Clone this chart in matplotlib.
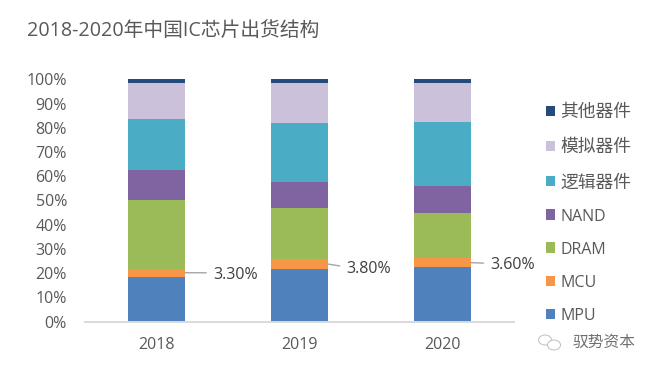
import matplotlib
matplotlib.use('Agg')
import matplotlib.pyplot as plt
from matplotlib.patches import Ellipse
import numpy as np

plt.rcParams['font.family'] = ['Open Sans', 'Noto Sans CJK SC', 'DejaVu Sans']

years = ['2018', '2019', '2020']
series_names = ['MPU', 'MCU', 'DRAM', 'NAND', '逻辑器件', '模拟器件', '其他器件']
mpu = [18.5, 21.8, 22.5]
mcu = [3.3, 3.8, 3.6]
dram = [28.3, 21.2, 18.9]
nand = [12.4, 10.9, 11.0]
logic = [21.1, 24.3, 26.4]
analog = [15.0, 16.6, 16.2]
other = [1.4, 1.4, 1.4]
colors = ['#4F81BD', '#F79646', '#9BBB59', '#8064A2', '#4BACC6', '#CCC1DA', '#254A7C']
mcu_labels = ['3.30%', '3.80%', '3.60%']
label_dx = [0.396, 0.330, 0.336]
label_y = [19.3, 21.7, 23.2]
text_gray = '#595959'

W, H = 656, 372
fig = plt.figure(figsize=(W / 100, H / 100), dpi=100)
ax = fig.add_axes([85 / W, 1 - 321.5 / H, (514 - 85) / W, (321.5 - 79.3) / H])

x = np.arange(len(years))
bottom = np.zeros(3)
handles = []
for vals, name, col in zip([mpu, mcu, dram, nand, logic, analog, other], series_names, colors):
    b = ax.bar(x, vals, 0.4, bottom=bottom, color=col, label=name, edgecolor='none')
    handles.append(b)
    bottom += np.array(vals)

ax.set_xlim(-0.5, 2.5)
ax.set_ylim(0, 100)
ax.set_xticks(x, years)
ax.set_yticks(np.arange(0, 101, 10), [f'{v}%' for v in range(0, 101, 10)])
ax.tick_params(axis='both', length=0, labelcolor=text_gray)
ax.tick_params(axis='x', pad=11, labelsize=11.5)
ax.tick_params(axis='y', pad=13, labelsize=11.5)
for s in ['top', 'right', 'left']:
    ax.spines[s].set_visible(False)
ax.spines['bottom'].set_color('#D9D9D9')
ax.spines['bottom'].set_linewidth(1.4)

bases = np.array(mpu) + np.array(mcu) / 2
for i, lab in enumerate(mcu_labels):
    ax.annotate(lab, xy=(i + 0.2, bases[i]), xytext=(i + label_dx[i], label_y[i]),
                fontsize=11.5, color='#404040', va='center', ha='left',
                arrowprops=dict(arrowstyle='-', color='#A6A6A6', lw=1, shrinkA=3, shrinkB=0,
                                relpos=(0, 0.62)))

fig.text(27 / W, 1 - 32 / H, '2018-2020年中国IC芯片出货结构', fontsize=14.2, color=text_gray,
         ha='left', va='center')

leg = ax.legend(handles[::-1], series_names[::-1], loc='upper left',
                bbox_to_anchor=(545.5 / W, 1 - 103 / H), bbox_transform=fig.transFigure,
                frameon=False, fontsize=12.8, handlelength=0.52, handleheight=0.52,
                handletextpad=0.3, labelspacing=0.97, borderpad=0, borderaxespad=0)
for t in leg.get_texts():
    t.set_color(text_gray)
    if t.get_text().isascii():
        t.set_fontsize(11.5)

for cx, cy, w, h in [(545, 340, 13, 10), (554, 345, 13, 10)]:
    fig.add_artist(Ellipse((cx / W, 1 - cy / H), w / W, h / H, transform=fig.transFigure,
                           facecolor='white', edgecolor='#BFBFBF', lw=0.7))
fig.text(573 / W, 1 - 343 / H, '驭势资本', fontsize=11.3, color='#707070', ha='left', va='center')

fig.savefig('out.png', dpi=100)
